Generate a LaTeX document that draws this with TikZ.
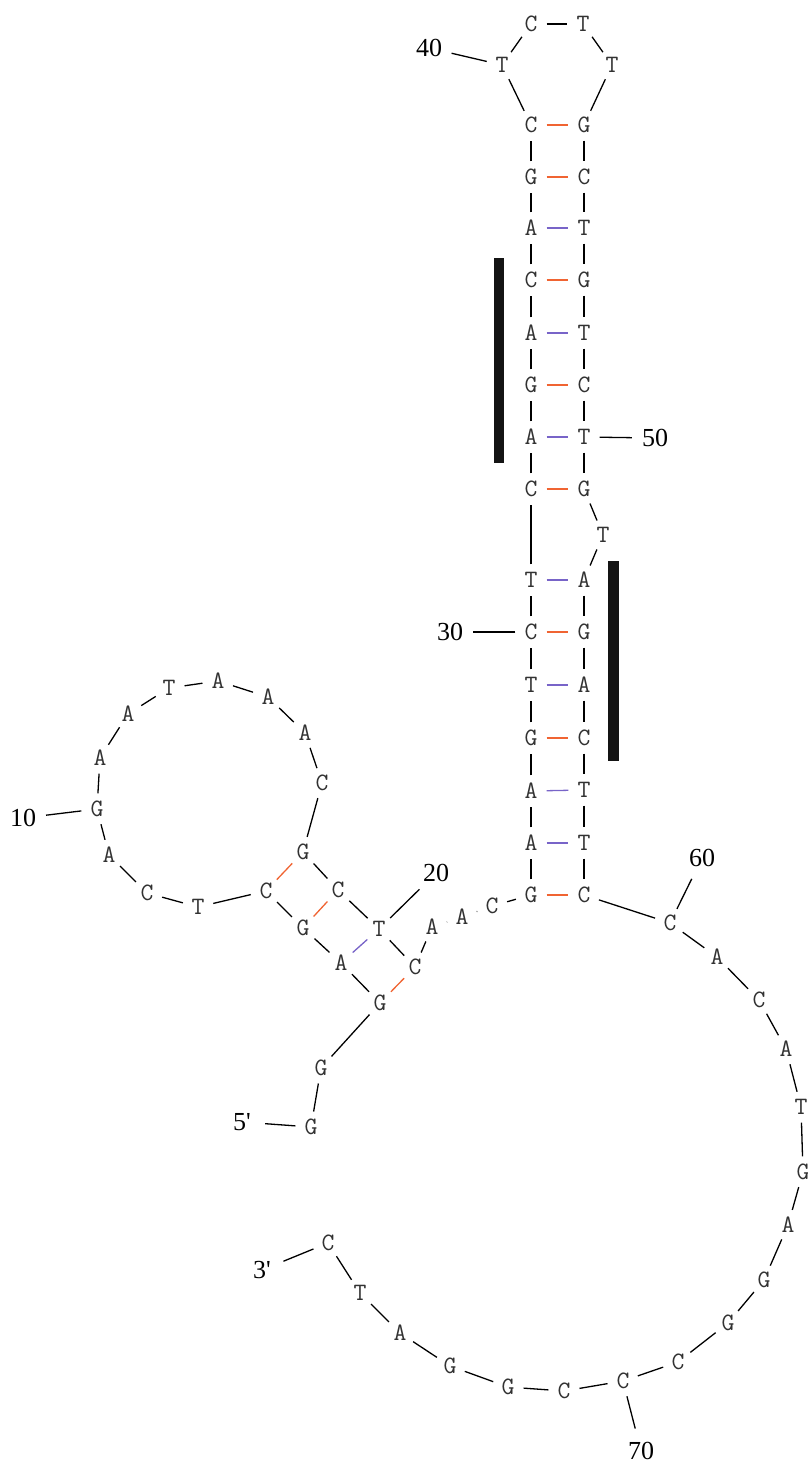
\documentclass[tikz,border=0pt]{standalone}
\usepackage{fontspec}
\setmainfont{Liberation Serif}
\definecolor{gcpair}{RGB}{240,100,50}
\definecolor{atpair}{RGB}{120,100,200}
\definecolor{ntgray}{RGB}{50,50,50}

\begin{document}
\begin{tikzpicture}[x=1pt,y=-1pt,
  nt/.style={circle,inner sep=0pt,minimum size=31pt,text=ntgray,
    font=\ttfamily\fontsize{25}{25}\selectfont},
  num/.style={circle,inner sep=0pt,minimum size=46pt,
    font=\fontsize{26}{26}\selectfont},
  bb/.style={line width=1.3pt},
  gcbond/.style={line width=1.3pt,gcpair},
  atbond/.style={line width=1.3pt,atpair}]
  \useasboundingbox (0,0) rectangle (807,1466);

  % bases, 5' to 3'
  \foreach \i/\x/\y/\b in {1/311/1127/G,2/321/1068/G,3/380/1003/G,4/341/963/A,
      5/303/928/G,6/266/891/C,7/198/907/T,8/147/893/C,9/109/855/A,10/97/809/G,
      11/100/758/A,12/128/714/A,13/169/688/T,14/218/681/A,15/268/697/A,
      16/305/733/A,17/322/783/C,18/303/852/G,19/338/890/C,20/379/929/T,
      21/415/967/C,22/432/927/A,23/462/917/A,24/492/906/C,25/531/895/G,
      26/531/843/A,27/531/791/A,28/531/738/G,29/531/685/T,30/531/632/C,
      31/531/580/T,32/531/489/C,33/531/437/A,34/531/385/G,35/531/333/A,
      36/531/280/C,37/531/228/A,38/531/177/G,39/531/125/C,40/502/65/T,
      41/531/24/C,42/583/24/T,43/612/65/T,44/584/125/G,45/584/177/C,
      46/584/228/T,47/584/280/G,48/584/333/T,49/584/385/C,50/584/437/T,
      51/584/489/G,52/603/535/T,53/584/580/A,54/584/632/G,55/584/685/A,
      56/584/738/C,57/584/790/T,58/584/843/T,59/584/895/C,60/670/923/C,
      61/717/957/A,62/759/1000/C,63/786/1049/A,64/801/1107/T,65/803/1172/G,
      66/788/1225/A,67/764/1280/G,68/728/1323/G,69/678/1362/C,70/623/1381/C,
      71/564/1391/C,72/508/1387/G,73/450/1366/G,74/400/1333/A,75/360/1293/T,
      76/328/1243/C}
    \node[nt] (n\i) at (\x,\y) {\b};

  % backbone
  \foreach \i [evaluate=\i as \j using int(\i+1)] in {1,...,75}
    \draw[bb] (n\i) -- (n\j);

  % pairs
  \foreach \i/\j in {3/21,5/19,6/18,25/59,28/56,30/54,32/51,34/49,36/47,38/45,39/44}
    \draw[gcbond] (n\i) -- (n\j);
  \foreach \i/\j in {4/20,26/58,27/57,29/55,31/53,33/50,35/48,37/46}
    \draw[atbond] (n\i) -- (n\j);

  % numbering
  \node[num] (l5p) at (242,1122) {5\textquotesingle};
  \node[num] (l3p) at (262,1270) {3\textquotesingle};
  \node[num] (l10) at (23,818) {10};
  \node[num] (l20) at (436,873) {20};
  \node[num] (l30) at (450,632) {30};
  \node[num] (l40) at (429,48) {40};
  \node[num] (l50) at (655,438) {50};
  \node[num] (l60) at (702,858) {60};
  \node[num] (l70) at (641,1451) {70};
  \draw[bb] (n1) -- (l5p);
  \draw[bb] (n76) -- (l3p);
  \draw[bb] (n10) -- (l10);
  \draw[bb] (n20) -- (l20);
  \draw[bb] (n30) -- (l30);
  \draw[bb] (n40) -- (l40);
  \draw[bb] (n50) -- (l50);
  \draw[bb] (n60) -- (l60);
  \draw[bb] (n70) -- (l70);

  % marked stretches
  \fill[black!92] (494,258) rectangle (504,463);
  \fill[black!92] (608,561) rectangle (619,761);
\end{tikzpicture}
\end{document}
